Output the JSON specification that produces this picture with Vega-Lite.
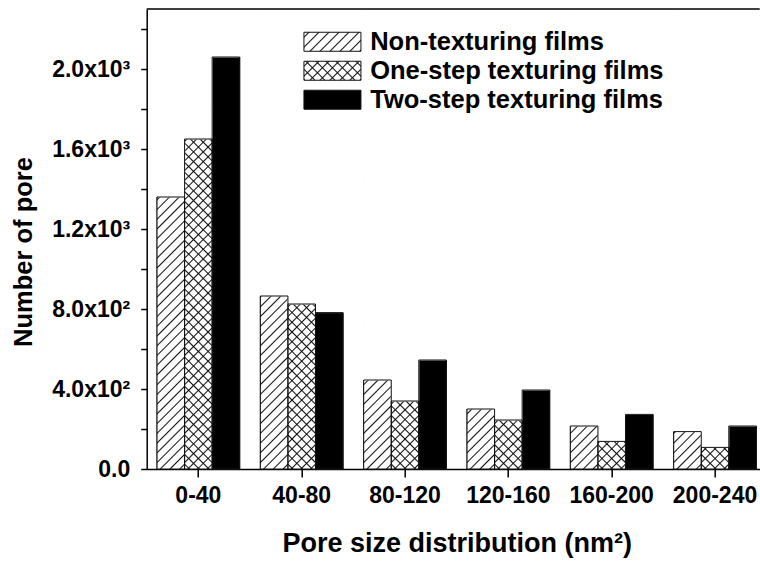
{
  "$schema": "https://vega.github.io/schema/vega-lite/v6.json",
  "autosize": {"type": "none"},
  "width": 613,
  "height": 460,
  "padding": {"left": 146.7, "top": 9, "right": 0.3, "bottom": 94},
  "background": "#ffffff",
  "config": {
    "view": {"stroke": null},
    "font": "Liberation Sans",
    "axis": {
      "grid": false, "zindex": 1,
      "tickColor": "#000", "tickWidth": 1.5, "domainColor": "#000", "domainWidth": 1.5,
      "labelFontWeight": "bold", "labelColor": "#000", "labelFontSize": 23,
      "titleFontWeight": "bold", "titleColor": "#000"
    },
    "axisX": {"labelAngle": 0, "tickSize": 8, "labelPadding": 7, "titleFontSize": 27},
    "axisY": {"tickSize": 6, "labelPadding": 11, "titleFontSize": 25.5}
  },
  "data": {
    "values": [
      {"size": "0-40", "series": "Non-texturing films", "count": 1360},
      {"size": "0-40", "series": "One-step texturing films", "count": 1650},
      {"size": "0-40", "series": "Two-step texturing films", "count": 2060},
      {"size": "40-80", "series": "Non-texturing films", "count": 865},
      {"size": "40-80", "series": "One-step texturing films", "count": 825},
      {"size": "40-80", "series": "Two-step texturing films", "count": 782},
      {"size": "80-120", "series": "Non-texturing films", "count": 445},
      {"size": "80-120", "series": "One-step texturing films", "count": 340},
      {"size": "80-120", "series": "Two-step texturing films", "count": 545},
      {"size": "120-160", "series": "Non-texturing films", "count": 300},
      {"size": "120-160", "series": "One-step texturing films", "count": 245},
      {"size": "120-160", "series": "Two-step texturing films", "count": 395},
      {"size": "160-200", "series": "Non-texturing films", "count": 215},
      {"size": "160-200", "series": "One-step texturing films", "count": 138},
      {"size": "160-200", "series": "Two-step texturing films", "count": 273},
      {"size": "200-240", "series": "Non-texturing films", "count": 187},
      {"size": "200-240", "series": "One-step texturing films", "count": 108},
      {"size": "200-240", "series": "Two-step texturing films", "count": 215}
    ]
  },
  "resolve": {"scale": {"fill": "independent"}},
  "layer": [
    {
      "mark": {"type": "bar", "stroke": "#111", "strokeWidth": 1},
      "encoding": {
        "x": {
          "field": "size", "type": "nominal",
          "scale": {"domain": ["0-40", "40-80", "80-120", "120-160", "160-200", "200-240"], "range": [0, 620], "paddingInner": 0.2, "paddingOuter": 0.1},
          "title": "Pore size distribution (nm²)",
          "axis": {"titleBaseline": "alphabetic", "titleAlign": "center", "titleX": 310, "titleY": 82.7}
        },
        "xOffset": {"field": "series", "type": "nominal", "scale": {"domain": ["Non-texturing films", "One-step texturing films", "Two-step texturing films"], "paddingInner": 0, "paddingOuter": 0}},
        "y": {
          "field": "count", "type": "quantitative", "stack": null,
          "scale": {"domain": [0, 2300], "nice": false},
          "title": "Number of pore",
          "axis": {
            "values": [0, 200, 400, 600, 800, 1000, 1200, 1400, 1600, 1800, 2000, 2200],
            "labelExpr": "datum.value == 0 ? '0.0' : datum.value == 400 ? '4.0x10²' : datum.value == 800 ? '8.0x10²' : datum.value == 1200 ? '1.2x10³' : datum.value == 1600 ? '1.6x10³' : datum.value == 2000 ? '2.0x10³' : ''",
            "labelOverlap": false,
            "titleAngle": -90, "titleAlign": "center", "titleBaseline": "alphabetic",
            "titleX": -115, "titleY": 242.5
          }
        },
        "fill": {
          "field": "series", "type": "nominal",
          "scale": {
            "domain": ["Non-texturing films", "One-step texturing films", "Two-step texturing films"],
            "range": [
              {"signal": "{gradient:'linear',x1:0,y1:0,x2:1.2,y2:0.4,stops:[{offset:0.047,color:'#fff'},{offset:0.066,color:'#111'},{offset:0.085,color:'#fff'},{offset:0.178,color:'#fff'},{offset:0.197,color:'#111'},{offset:0.216,color:'#fff'},{offset:0.31,color:'#fff'},{offset:0.329,color:'#111'},{offset:0.348,color:'#fff'},{offset:0.442,color:'#fff'},{offset:0.461,color:'#111'},{offset:0.48,color:'#fff'},{offset:0.573,color:'#fff'},{offset:0.592,color:'#111'},{offset:0.611,color:'#fff'},{offset:0.705,color:'#fff'},{offset:0.724,color:'#111'},{offset:0.743,color:'#fff'},{offset:0.836,color:'#fff'},{offset:0.855,color:'#111'},{offset:0.874,color:'#fff'},{offset:0.968,color:'#fff'},{offset:0.987,color:'#111'},{offset:1,color:'#fff'}]}"},
              {"signal": "{gradient:'linear',x1:0,y1:0,x2:1.2,y2:0.4,stops:[{offset:0.047,color:'#fff'},{offset:0.066,color:'#111'},{offset:0.085,color:'#fff'},{offset:0.178,color:'#fff'},{offset:0.197,color:'#111'},{offset:0.216,color:'#fff'},{offset:0.31,color:'#fff'},{offset:0.329,color:'#111'},{offset:0.348,color:'#fff'},{offset:0.442,color:'#fff'},{offset:0.461,color:'#111'},{offset:0.48,color:'#fff'},{offset:0.573,color:'#fff'},{offset:0.592,color:'#111'},{offset:0.611,color:'#fff'},{offset:0.705,color:'#fff'},{offset:0.724,color:'#111'},{offset:0.743,color:'#fff'},{offset:0.836,color:'#fff'},{offset:0.855,color:'#111'},{offset:0.874,color:'#fff'},{offset:0.968,color:'#fff'},{offset:0.987,color:'#111'},{offset:1,color:'#fff'}]}"},
              "#000000"
            ]
          },
          "legend": {
            "title": null, "orient": "none", "legendX": 154, "legendY": 20,
            "symbolType": "M-1,-1H5V1H-1Z", "symbolSize": 361,
            "symbolStrokeColor": "#111", "symbolStrokeWidth": 1,
            "labelFontSize": 25.5, "labelFontWeight": "bold", "labelColor": "#000",
            "labelLimit": 400, "labelOffset": 44, "rowPadding": 2, "padding": 0
          }
        }
      }
    },
    {
      "mark": {"type": "bar", "strokeWidth": 0},
      "encoding": {
        "x": {"field": "size", "type": "nominal", "title": "Pore size distribution (nm²)", "scale": {"domain": ["0-40", "40-80", "80-120", "120-160", "160-200", "200-240"], "range": [0, 620], "paddingInner": 0.2, "paddingOuter": 0.1}},
        "xOffset": {"field": "series", "type": "nominal", "scale": {"domain": ["Non-texturing films", "One-step texturing films", "Two-step texturing films"], "paddingInner": 0, "paddingOuter": 0}},
        "y": {"field": "count", "type": "quantitative", "stack": null, "title": "Number of pore", "scale": {"domain": [0, 2300], "nice": false}},
        "fill": {
          "field": "series", "type": "nominal",
          "scale": {
            "domain": ["Non-texturing films", "One-step texturing films", "Two-step texturing films"],
            "range": [
              "transparent",
              {"signal": "{gradient:'linear',x1:1,y1:0,x2:-0.2,y2:0.4,stops:[{offset:0.047,color:'rgba(0,0,0,0)'},{offset:0.066,color:'#111'},{offset:0.085,color:'rgba(0,0,0,0)'},{offset:0.178,color:'rgba(0,0,0,0)'},{offset:0.197,color:'#111'},{offset:0.216,color:'rgba(0,0,0,0)'},{offset:0.31,color:'rgba(0,0,0,0)'},{offset:0.329,color:'#111'},{offset:0.348,color:'rgba(0,0,0,0)'},{offset:0.442,color:'rgba(0,0,0,0)'},{offset:0.461,color:'#111'},{offset:0.48,color:'rgba(0,0,0,0)'},{offset:0.573,color:'rgba(0,0,0,0)'},{offset:0.592,color:'#111'},{offset:0.611,color:'rgba(0,0,0,0)'},{offset:0.705,color:'rgba(0,0,0,0)'},{offset:0.724,color:'#111'},{offset:0.743,color:'rgba(0,0,0,0)'},{offset:0.836,color:'rgba(0,0,0,0)'},{offset:0.855,color:'#111'},{offset:0.874,color:'rgba(0,0,0,0)'},{offset:0.968,color:'rgba(0,0,0,0)'},{offset:0.987,color:'#111'},{offset:1,color:'rgba(0,0,0,0)'}]}"},
              "transparent"
            ]
          },
          "legend": {
            "title": null, "orient": "none", "legendX": 154, "legendY": 20,
            "symbolType": "M-1,-1H5V1H-1Z", "symbolSize": 361,
            "symbolStrokeColor": "transparent", "symbolStrokeWidth": 0,
            "labelFontSize": 25.5, "labelFontWeight": "bold", "labelColor": "transparent",
            "labelLimit": 400, "labelOffset": 44, "rowPadding": 2, "padding": 0
          }
        }
      }
    },
    {
      "transform": [{"filter": "datum.series != 'Two-step texturing films'"}],
      "mark": {
        "type": "bar", "strokeWidth": 0,
        "fill": {"gradient": "linear", "x1": 0, "y1": 0, "x2": 0.0635, "y2": 1.0563, "stops": [
          {"offset":0.007,"color":"#fff"},{"offset":0.01,"color":"#111"},{"offset":0.013,"color":"#fff"},
          {"offset":0.027,"color":"#fff"},{"offset":0.03,"color":"#111"},{"offset":0.033,"color":"#fff"},
          {"offset":0.047,"color":"#fff"},{"offset":0.05,"color":"#111"},{"offset":0.053,"color":"#fff"},
          {"offset":0.067,"color":"#fff"},{"offset":0.07,"color":"#111"},{"offset":0.073,"color":"#fff"},
          {"offset":0.087,"color":"#fff"},{"offset":0.09,"color":"#111"},{"offset":0.093,"color":"#fff"},
          {"offset":0.107,"color":"#fff"},{"offset":0.11,"color":"#111"},{"offset":0.113,"color":"#fff"},
          {"offset":0.127,"color":"#fff"},{"offset":0.13,"color":"#111"},{"offset":0.133,"color":"#fff"},
          {"offset":0.147,"color":"#fff"},{"offset":0.15,"color":"#111"},{"offset":0.153,"color":"#fff"},
          {"offset":0.167,"color":"#fff"},{"offset":0.17,"color":"#111"},{"offset":0.173,"color":"#fff"},
          {"offset":0.187,"color":"#fff"},{"offset":0.19,"color":"#111"},{"offset":0.193,"color":"#fff"},
          {"offset":0.207,"color":"#fff"},{"offset":0.21,"color":"#111"},{"offset":0.213,"color":"#fff"},
          {"offset":0.227,"color":"#fff"},{"offset":0.23,"color":"#111"},{"offset":0.233,"color":"#fff"},
          {"offset":0.247,"color":"#fff"},{"offset":0.25,"color":"#111"},{"offset":0.253,"color":"#fff"},
          {"offset":0.267,"color":"#fff"},{"offset":0.27,"color":"#111"},{"offset":0.273,"color":"#fff"},
          {"offset":0.287,"color":"#fff"},{"offset":0.29,"color":"#111"},{"offset":0.293,"color":"#fff"},
          {"offset":0.307,"color":"#fff"},{"offset":0.31,"color":"#111"},{"offset":0.313,"color":"#fff"},
          {"offset":0.327,"color":"#fff"},{"offset":0.33,"color":"#111"},{"offset":0.333,"color":"#fff"},
          {"offset":0.347,"color":"#fff"},{"offset":0.35,"color":"#111"},{"offset":0.353,"color":"#fff"},
          {"offset":0.367,"color":"#fff"},{"offset":0.37,"color":"#111"},{"offset":0.373,"color":"#fff"},
          {"offset":0.387,"color":"#fff"},{"offset":0.39,"color":"#111"},{"offset":0.393,"color":"#fff"},
          {"offset":0.407,"color":"#fff"},{"offset":0.41,"color":"#111"},{"offset":0.413,"color":"#fff"},
          {"offset":0.427,"color":"#fff"},{"offset":0.43,"color":"#111"},{"offset":0.433,"color":"#fff"},
          {"offset":0.447,"color":"#fff"},{"offset":0.45,"color":"#111"},{"offset":0.453,"color":"#fff"},
          {"offset":0.467,"color":"#fff"},{"offset":0.47,"color":"#111"},{"offset":0.473,"color":"#fff"},
          {"offset":0.487,"color":"#fff"},{"offset":0.49,"color":"#111"},{"offset":0.493,"color":"#fff"},
          {"offset":0.507,"color":"#fff"},{"offset":0.51,"color":"#111"},{"offset":0.513,"color":"#fff"},
          {"offset":0.527,"color":"#fff"},{"offset":0.53,"color":"#111"},{"offset":0.533,"color":"#fff"},
          {"offset":0.547,"color":"#fff"},{"offset":0.55,"color":"#111"},{"offset":0.553,"color":"#fff"},
          {"offset":0.567,"color":"#fff"},{"offset":0.57,"color":"#111"},{"offset":0.573,"color":"#fff"},
          {"offset":0.587,"color":"#fff"},{"offset":0.59,"color":"#111"},{"offset":0.593,"color":"#fff"},
          {"offset":0.607,"color":"#fff"},{"offset":0.61,"color":"#111"},{"offset":0.613,"color":"#fff"},
          {"offset":0.627,"color":"#fff"},{"offset":0.63,"color":"#111"},{"offset":0.633,"color":"#fff"},
          {"offset":0.647,"color":"#fff"},{"offset":0.65,"color":"#111"},{"offset":0.653,"color":"#fff"},
          {"offset":0.667,"color":"#fff"},{"offset":0.67,"color":"#111"},{"offset":0.673,"color":"#fff"},
          {"offset":0.687,"color":"#fff"},{"offset":0.69,"color":"#111"},{"offset":0.693,"color":"#fff"},
          {"offset":0.707,"color":"#fff"},{"offset":0.71,"color":"#111"},{"offset":0.713,"color":"#fff"},
          {"offset":0.727,"color":"#fff"},{"offset":0.73,"color":"#111"},{"offset":0.733,"color":"#fff"},
          {"offset":0.747,"color":"#fff"},{"offset":0.75,"color":"#111"},{"offset":0.753,"color":"#fff"},
          {"offset":0.767,"color":"#fff"},{"offset":0.77,"color":"#111"},{"offset":0.773,"color":"#fff"},
          {"offset":0.787,"color":"#fff"},{"offset":0.79,"color":"#111"},{"offset":0.793,"color":"#fff"},
          {"offset":0.807,"color":"#fff"},{"offset":0.81,"color":"#111"},{"offset":0.813,"color":"#fff"},
          {"offset":0.827,"color":"#fff"},{"offset":0.83,"color":"#111"},{"offset":0.833,"color":"#fff"},
          {"offset":0.847,"color":"#fff"},{"offset":0.85,"color":"#111"},{"offset":0.853,"color":"#fff"},
          {"offset":0.867,"color":"#fff"},{"offset":0.87,"color":"#111"},{"offset":0.873,"color":"#fff"},
          {"offset":0.887,"color":"#fff"},{"offset":0.89,"color":"#111"},{"offset":0.893,"color":"#fff"},
          {"offset":0.907,"color":"#fff"},{"offset":0.91,"color":"#111"},{"offset":0.913,"color":"#fff"},
          {"offset":0.927,"color":"#fff"},{"offset":0.93,"color":"#111"},{"offset":0.933,"color":"#fff"},
          {"offset":0.947,"color":"#fff"},{"offset":0.95,"color":"#111"},{"offset":0.953,"color":"#fff"},
          {"offset":0.967,"color":"#fff"},{"offset":0.97,"color":"#111"},{"offset":0.973,"color":"#fff"},
          {"offset":0.987,"color":"#fff"},{"offset":0.99,"color":"#111"},{"offset":0.993,"color":"#fff"}
        ]}
      },
      "encoding": {
        "x": {"field": "size", "type": "nominal", "title": "Pore size distribution (nm²)", "scale": {"domain": ["0-40", "40-80", "80-120", "120-160", "160-200", "200-240"], "range": [0, 620], "paddingInner": 0.2, "paddingOuter": 0.1}},
        "xOffset": {"field": "series", "type": "nominal", "scale": {"domain": ["Non-texturing films", "One-step texturing films", "Two-step texturing films"], "paddingInner": 0, "paddingOuter": 0}},
        "y": {"datum": 2295, "type": "quantitative", "title": "Number of pore", "scale": {"domain": [0, 2300], "nice": false}},
        "y2": {"datum": 0}
      }
    },
    {
      "transform": [{"filter": "datum.series == 'One-step texturing films'"}],
      "mark": {
        "type": "bar", "strokeWidth": 0,
        "fill": {"gradient": "linear", "x1": 1, "y1": 0, "x2": 0.9365, "y2": 1.0563, "stops": [
          {"offset":0.007,"color":"rgba(0,0,0,0)"},{"offset":0.01,"color":"#111"},{"offset":0.013,"color":"rgba(0,0,0,0)"},
          {"offset":0.027,"color":"rgba(0,0,0,0)"},{"offset":0.03,"color":"#111"},{"offset":0.033,"color":"rgba(0,0,0,0)"},
          {"offset":0.047,"color":"rgba(0,0,0,0)"},{"offset":0.05,"color":"#111"},{"offset":0.053,"color":"rgba(0,0,0,0)"},
          {"offset":0.067,"color":"rgba(0,0,0,0)"},{"offset":0.07,"color":"#111"},{"offset":0.073,"color":"rgba(0,0,0,0)"},
          {"offset":0.087,"color":"rgba(0,0,0,0)"},{"offset":0.09,"color":"#111"},{"offset":0.093,"color":"rgba(0,0,0,0)"},
          {"offset":0.107,"color":"rgba(0,0,0,0)"},{"offset":0.11,"color":"#111"},{"offset":0.113,"color":"rgba(0,0,0,0)"},
          {"offset":0.127,"color":"rgba(0,0,0,0)"},{"offset":0.13,"color":"#111"},{"offset":0.133,"color":"rgba(0,0,0,0)"},
          {"offset":0.147,"color":"rgba(0,0,0,0)"},{"offset":0.15,"color":"#111"},{"offset":0.153,"color":"rgba(0,0,0,0)"},
          {"offset":0.167,"color":"rgba(0,0,0,0)"},{"offset":0.17,"color":"#111"},{"offset":0.173,"color":"rgba(0,0,0,0)"},
          {"offset":0.187,"color":"rgba(0,0,0,0)"},{"offset":0.19,"color":"#111"},{"offset":0.193,"color":"rgba(0,0,0,0)"},
          {"offset":0.207,"color":"rgba(0,0,0,0)"},{"offset":0.21,"color":"#111"},{"offset":0.213,"color":"rgba(0,0,0,0)"},
          {"offset":0.227,"color":"rgba(0,0,0,0)"},{"offset":0.23,"color":"#111"},{"offset":0.233,"color":"rgba(0,0,0,0)"},
          {"offset":0.247,"color":"rgba(0,0,0,0)"},{"offset":0.25,"color":"#111"},{"offset":0.253,"color":"rgba(0,0,0,0)"},
          {"offset":0.267,"color":"rgba(0,0,0,0)"},{"offset":0.27,"color":"#111"},{"offset":0.273,"color":"rgba(0,0,0,0)"},
          {"offset":0.287,"color":"rgba(0,0,0,0)"},{"offset":0.29,"color":"#111"},{"offset":0.293,"color":"rgba(0,0,0,0)"},
          {"offset":0.307,"color":"rgba(0,0,0,0)"},{"offset":0.31,"color":"#111"},{"offset":0.313,"color":"rgba(0,0,0,0)"},
          {"offset":0.327,"color":"rgba(0,0,0,0)"},{"offset":0.33,"color":"#111"},{"offset":0.333,"color":"rgba(0,0,0,0)"},
          {"offset":0.347,"color":"rgba(0,0,0,0)"},{"offset":0.35,"color":"#111"},{"offset":0.353,"color":"rgba(0,0,0,0)"},
          {"offset":0.367,"color":"rgba(0,0,0,0)"},{"offset":0.37,"color":"#111"},{"offset":0.373,"color":"rgba(0,0,0,0)"},
          {"offset":0.387,"color":"rgba(0,0,0,0)"},{"offset":0.39,"color":"#111"},{"offset":0.393,"color":"rgba(0,0,0,0)"},
          {"offset":0.407,"color":"rgba(0,0,0,0)"},{"offset":0.41,"color":"#111"},{"offset":0.413,"color":"rgba(0,0,0,0)"},
          {"offset":0.427,"color":"rgba(0,0,0,0)"},{"offset":0.43,"color":"#111"},{"offset":0.433,"color":"rgba(0,0,0,0)"},
          {"offset":0.447,"color":"rgba(0,0,0,0)"},{"offset":0.45,"color":"#111"},{"offset":0.453,"color":"rgba(0,0,0,0)"},
          {"offset":0.467,"color":"rgba(0,0,0,0)"},{"offset":0.47,"color":"#111"},{"offset":0.473,"color":"rgba(0,0,0,0)"},
          {"offset":0.487,"color":"rgba(0,0,0,0)"},{"offset":0.49,"color":"#111"},{"offset":0.493,"color":"rgba(0,0,0,0)"},
          {"offset":0.507,"color":"rgba(0,0,0,0)"},{"offset":0.51,"color":"#111"},{"offset":0.513,"color":"rgba(0,0,0,0)"},
          {"offset":0.527,"color":"rgba(0,0,0,0)"},{"offset":0.53,"color":"#111"},{"offset":0.533,"color":"rgba(0,0,0,0)"},
          {"offset":0.547,"color":"rgba(0,0,0,0)"},{"offset":0.55,"color":"#111"},{"offset":0.553,"color":"rgba(0,0,0,0)"},
          {"offset":0.567,"color":"rgba(0,0,0,0)"},{"offset":0.57,"color":"#111"},{"offset":0.573,"color":"rgba(0,0,0,0)"},
          {"offset":0.587,"color":"rgba(0,0,0,0)"},{"offset":0.59,"color":"#111"},{"offset":0.593,"color":"rgba(0,0,0,0)"},
          {"offset":0.607,"color":"rgba(0,0,0,0)"},{"offset":0.61,"color":"#111"},{"offset":0.613,"color":"rgba(0,0,0,0)"},
          {"offset":0.627,"color":"rgba(0,0,0,0)"},{"offset":0.63,"color":"#111"},{"offset":0.633,"color":"rgba(0,0,0,0)"},
          {"offset":0.647,"color":"rgba(0,0,0,0)"},{"offset":0.65,"color":"#111"},{"offset":0.653,"color":"rgba(0,0,0,0)"},
          {"offset":0.667,"color":"rgba(0,0,0,0)"},{"offset":0.67,"color":"#111"},{"offset":0.673,"color":"rgba(0,0,0,0)"},
          {"offset":0.687,"color":"rgba(0,0,0,0)"},{"offset":0.69,"color":"#111"},{"offset":0.693,"color":"rgba(0,0,0,0)"},
          {"offset":0.707,"color":"rgba(0,0,0,0)"},{"offset":0.71,"color":"#111"},{"offset":0.713,"color":"rgba(0,0,0,0)"},
          {"offset":0.727,"color":"rgba(0,0,0,0)"},{"offset":0.73,"color":"#111"},{"offset":0.733,"color":"rgba(0,0,0,0)"},
          {"offset":0.747,"color":"rgba(0,0,0,0)"},{"offset":0.75,"color":"#111"},{"offset":0.753,"color":"rgba(0,0,0,0)"},
          {"offset":0.767,"color":"rgba(0,0,0,0)"},{"offset":0.77,"color":"#111"},{"offset":0.773,"color":"rgba(0,0,0,0)"},
          {"offset":0.787,"color":"rgba(0,0,0,0)"},{"offset":0.79,"color":"#111"},{"offset":0.793,"color":"rgba(0,0,0,0)"},
          {"offset":0.807,"color":"rgba(0,0,0,0)"},{"offset":0.81,"color":"#111"},{"offset":0.813,"color":"rgba(0,0,0,0)"},
          {"offset":0.827,"color":"rgba(0,0,0,0)"},{"offset":0.83,"color":"#111"},{"offset":0.833,"color":"rgba(0,0,0,0)"},
          {"offset":0.847,"color":"rgba(0,0,0,0)"},{"offset":0.85,"color":"#111"},{"offset":0.853,"color":"rgba(0,0,0,0)"},
          {"offset":0.867,"color":"rgba(0,0,0,0)"},{"offset":0.87,"color":"#111"},{"offset":0.873,"color":"rgba(0,0,0,0)"},
          {"offset":0.887,"color":"rgba(0,0,0,0)"},{"offset":0.89,"color":"#111"},{"offset":0.893,"color":"rgba(0,0,0,0)"},
          {"offset":0.907,"color":"rgba(0,0,0,0)"},{"offset":0.91,"color":"#111"},{"offset":0.913,"color":"rgba(0,0,0,0)"},
          {"offset":0.927,"color":"rgba(0,0,0,0)"},{"offset":0.93,"color":"#111"},{"offset":0.933,"color":"rgba(0,0,0,0)"},
          {"offset":0.947,"color":"rgba(0,0,0,0)"},{"offset":0.95,"color":"#111"},{"offset":0.953,"color":"rgba(0,0,0,0)"},
          {"offset":0.967,"color":"rgba(0,0,0,0)"},{"offset":0.97,"color":"#111"},{"offset":0.973,"color":"rgba(0,0,0,0)"},
          {"offset":0.987,"color":"rgba(0,0,0,0)"},{"offset":0.99,"color":"#111"},{"offset":0.993,"color":"rgba(0,0,0,0)"}
        ]}
      },
      "encoding": {
        "x": {"field": "size", "type": "nominal", "title": "Pore size distribution (nm²)", "scale": {"domain": ["0-40", "40-80", "80-120", "120-160", "160-200", "200-240"], "range": [0, 620], "paddingInner": 0.2, "paddingOuter": 0.1}},
        "xOffset": {"field": "series", "type": "nominal", "scale": {"domain": ["Non-texturing films", "One-step texturing films", "Two-step texturing films"], "paddingInner": 0, "paddingOuter": 0}},
        "y": {"datum": 2295, "type": "quantitative", "title": "Number of pore", "scale": {"domain": [0, 2300], "nice": false}},
        "y2": {"datum": 0}
      }
    },
    {
      "mark": {"type": "bar", "fill": "#ffffff", "stroke": "#ffffff", "strokeWidth": 1},
      "encoding": {
        "x": {"field": "size", "type": "nominal", "title": "Pore size distribution (nm²)", "scale": {"domain": ["0-40", "40-80", "80-120", "120-160", "160-200", "200-240"], "range": [0, 620], "paddingInner": 0.2, "paddingOuter": 0.1}},
        "xOffset": {"field": "series", "type": "nominal", "scale": {"domain": ["Non-texturing films", "One-step texturing films", "Two-step texturing films"], "paddingInner": 0, "paddingOuter": 0}},
        "y": {"field": "count", "type": "quantitative", "title": "Number of pore", "scale": {"domain": [0, 2300], "nice": false}},
        "y2": {"datum": 2295}
      }
    },
    {
      "mark": {"type": "bar", "filled": false, "stroke": "#111", "strokeWidth": 1},
      "encoding": {
        "x": {"field": "size", "type": "nominal", "title": "Pore size distribution (nm²)", "scale": {"domain": ["0-40", "40-80", "80-120", "120-160", "160-200", "200-240"], "range": [0, 620], "paddingInner": 0.2, "paddingOuter": 0.1}},
        "xOffset": {"field": "series", "type": "nominal", "scale": {"domain": ["Non-texturing films", "One-step texturing films", "Two-step texturing films"], "paddingInner": 0, "paddingOuter": 0}},
        "y": {"field": "count", "type": "quantitative", "stack": null, "title": "Number of pore", "scale": {"domain": [0, 2300], "nice": false}}
      }
    },
    {
      "data": {"values": [{"edge": "top"}]},
      "mark": {"type": "rule", "stroke": "#000", "strokeWidth": 1.5},
      "encoding": {
        "y": {"datum": 2300, "type": "quantitative", "title": "Number of pore", "scale": {"domain": [0, 2300], "nice": false}}
      }
    }
  ]
}
